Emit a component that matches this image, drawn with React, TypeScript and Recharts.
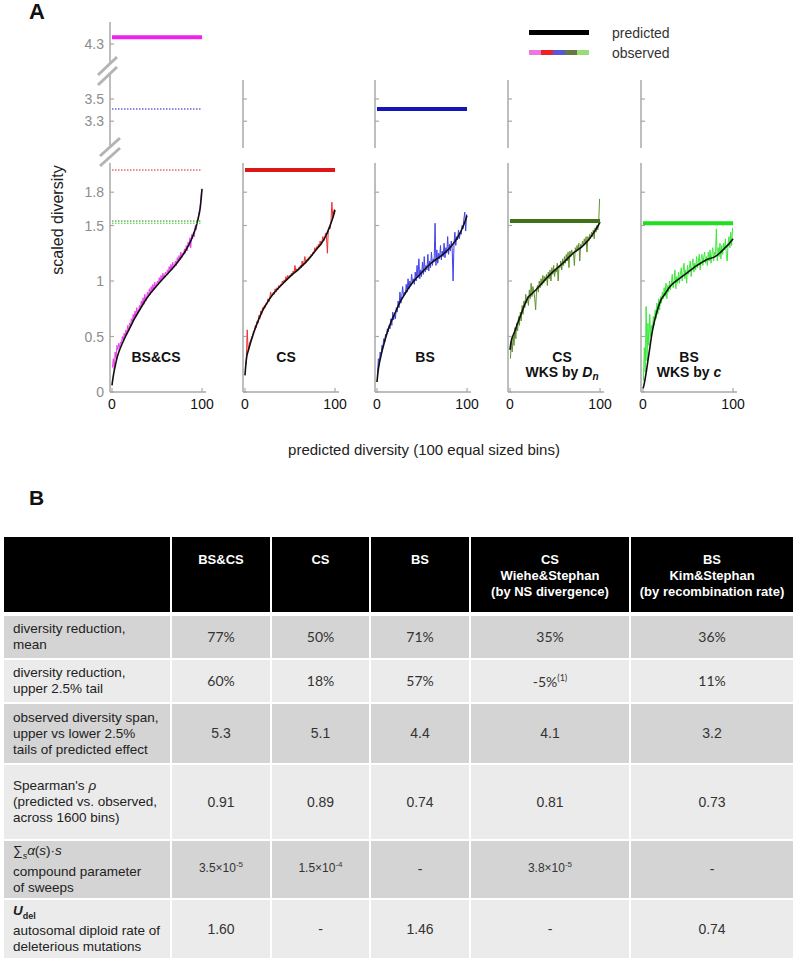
import React from "react";
import { LineChart, Line, XAxis, YAxis } from "recharts";

// ---------- panel A data ----------
const panelNames = ["BS&CS", "CS", "BS", "CS WKS by Dn", "BS WKS by c"];
const obsColors = ["#ee3cee", "#ee3030", "#4040e8", "#62922e", "#3ce83c"];
const meanColors = ["#ee22ee", "#dd1616", "#1616b8", "#3f7216", "#22dd22"];
const observedMean = [4.36, 2.0, 3.41, 1.54, 1.52];

const predX = [0, 1, 2, 4, 6, 8, 10, 15, 20, 25, 30, 40, 50, 60, 70, 80, 85, 90, 95, 98, 100];
const predBSCS = [0.06, 0.12, 0.17, 0.25, 0.32, 0.37, 0.41, 0.5, 0.58, 0.66, 0.73, 0.86, 0.96, 1.05, 1.14, 1.25, 1.32, 1.41, 1.54, 1.66, 1.83];
const predCS = [0.15, 0.25, 0.32, 0.38, 0.44, 0.49, 0.54, 0.65, 0.74, 0.81, 0.87, 0.96, 1.04, 1.11, 1.19, 1.29, 1.34, 1.41, 1.51, 1.58, 1.64];
const predBS = [0.09, 0.17, 0.23, 0.31, 0.38, 0.44, 0.5, 0.62, 0.71, 0.8, 0.87, 0.99, 1.08, 1.16, 1.22, 1.29, 1.34, 1.4, 1.48, 1.54, 1.59];
const predWS = [0.38, 0.44, 0.48, 0.52, 0.56, 0.61, 0.65, 0.76, 0.85, 0.89, 0.93, 1.02, 1.1, 1.17, 1.25, 1.31, 1.35, 1.4, 1.46, 1.5, 1.53];
const predKS = [0.03, 0.06, 0.1, 0.2, 0.31, 0.42, 0.53, 0.71, 0.83, 0.89, 0.95, 1.02, 1.08, 1.14, 1.19, 1.22, 1.25, 1.29, 1.33, 1.36, 1.38];

const obsBSCS = [
  0.22, 0.3, 0.2, 0.36, 0.3, 0.42, 0.38, 0.44, 0.4, 0.45,
  0.44, 0.5, 0.46, 0.53, 0.49, 0.56, 0.52, 0.6, 0.55, 0.62,
  0.59, 0.66, 0.62, 0.7, 0.65, 0.73, 0.68, 0.76, 0.71, 0.72,
  0.78, 0.74, 0.82, 0.77, 0.85, 0.79, 0.88, 0.82, 0.86, 0.9,
  0.86, 0.93, 0.88, 0.95, 0.9, 0.97, 0.92, 0.99, 0.94, 0.97,
  1.0, 0.97, 1.03, 0.99, 1.05, 1.01, 1.07, 1.03, 1.06, 1.08,
  1.05, 1.1, 1.07, 1.13, 1.09, 1.15, 1.1, 1.17, 1.12, 1.14,
  1.18, 1.14, 1.21, 1.17, 1.23, 1.19, 1.26, 1.21, 1.25, 1.24,
  1.29, 1.25, 1.32, 1.27, 1.35, 1.31, 1.39, 1.3, 1.42, 1.38,
  1.44, 1.4, 1.5, 1.46, 1.52, 1.56, 1.62, 1.64, 1.72, 1.82,
];
const obsCS = [
  0.22, 0.3, 0.56, 0.37, 0.42, 0.45, 0.47, 0.5, 0.51, 0.55,
  0.55, 0.6, 0.58, 0.64, 0.62, 0.69, 0.66, 0.73, 0.7, 0.76,
  0.74, 0.78, 0.76, 0.8, 0.79, 0.84, 0.81, 0.85, 0.9, 0.86,
  0.87, 0.9, 0.88, 0.93, 0.9, 0.94, 0.92, 0.96, 0.94, 0.97,
  0.96, 1.0, 0.98, 1.01, 0.99, 1.04, 1.01, 1.05, 1.03, 1.05,
  1.04, 1.07, 1.05, 1.09, 1.07, 1.14, 1.08, 1.11, 1.09, 1.12,
  1.11, 1.14, 1.12, 1.18, 1.14, 1.17, 1.22, 1.16, 1.19, 1.2,
  1.2, 1.22, 1.21, 1.24, 1.23, 1.26, 1.25, 1.3, 1.27, 1.31,
  1.3, 1.33, 1.31, 1.36, 1.33, 1.36, 1.4, 1.36, 1.39, 1.43,
  1.4, 1.25, 1.46, 1.48, 1.47, 1.54, 1.71, 1.57, 1.63, 1.65,
];
const obsBS = [
  0.15, 0.3, 0.24, 0.36, 0.33, 0.42, 0.4, 0.48, 0.45, 0.52,
  0.5, 0.57, 0.54, 0.6, 0.57, 0.66, 0.6, 0.72, 0.65, 0.7,
  0.66, 0.76, 0.72, 0.82, 0.76, 0.9, 0.8, 0.86, 0.95, 0.86,
  0.9, 0.88, 0.97, 0.9, 1.02, 0.93, 1.0, 0.96, 1.06, 0.98,
  1.02, 0.97, 1.08, 1.0, 1.14, 1.03, 1.2, 1.02, 1.1, 1.04,
  1.17, 1.06, 1.22, 1.08, 1.14, 1.1, 1.24, 1.09, 1.18, 1.12,
  1.26, 1.14, 1.2, 1.18, 1.52, 1.14, 1.28, 1.16, 1.25, 1.2,
  1.32, 1.19, 1.27, 1.22, 1.34, 1.21, 1.3, 1.25, 1.4, 1.24,
  1.33, 1.27, 1.36, 1.29, 1.0, 1.33, 1.44, 1.32, 1.4, 1.37,
  1.46, 1.38, 1.44, 1.42, 1.5, 1.47, 1.56, 1.62, 1.45, 1.6,
];
const obsWS = [
  0.3, 0.45, 0.36, 0.5, 0.42, 0.58, 0.48, 0.62, 0.55, 0.68,
  0.6, 0.72, 0.64, 0.78, 0.7, 0.82, 0.76, 0.88, 0.8, 0.86,
  0.78, 0.92, 0.84, 0.98, 0.86, 0.95, 0.9, 0.84, 0.74, 0.92,
  0.96, 0.9, 1.0, 0.94, 1.02, 0.96, 1.05, 0.98, 1.04, 1.0,
  1.06, 0.96, 1.08, 1.02, 1.1, 1.0, 1.12, 1.06, 1.14, 1.04,
  1.1, 1.08, 1.16, 1.0, 1.14, 1.12, 1.18, 1.1, 1.2, 1.14,
  1.22, 1.16, 1.24, 1.18, 1.26, 1.12, 1.27, 1.22, 1.28, 1.24,
  1.26, 1.14, 1.3, 1.26, 1.32, 1.28, 1.34, 1.18, 1.33, 1.3,
  1.36, 1.32, 1.38, 1.34, 1.4, 1.26, 1.4, 1.36, 1.42, 1.38,
  1.44, 1.4, 1.46, 1.38, 1.48, 1.44, 1.5, 1.46, 1.52, 1.74,
];
const obsKS = [
  0.1, 0.4, 0.18, 0.77, 0.28, 0.62, 0.42, 0.7, 0.5, 0.6,
  0.56, 0.68, 0.6, 0.74, 0.66, 0.8, 0.7, 0.84, 0.74, 0.86,
  0.8, 0.9, 0.84, 0.94, 0.86, 0.98, 0.84, 0.96, 0.9, 1.0,
  0.92, 0.98, 1.06, 0.94, 1.0, 1.1, 0.93, 1.04, 0.98, 1.08,
  0.98, 1.06, 1.12, 1.0, 1.08, 1.16, 1.02, 1.1, 0.98, 1.14,
  1.06, 1.12, 1.18, 1.04, 1.14, 1.2, 1.08, 1.16, 1.1, 1.22,
  1.12, 1.18, 1.24, 1.1, 1.2, 1.24, 1.14, 1.22, 1.26, 1.16,
  1.22, 1.14, 1.26, 1.18, 1.28, 1.16, 1.24, 1.3, 1.18, 1.26,
  1.24, 1.47, 1.18, 1.3, 1.22, 1.34, 1.2, 1.32, 1.24, 1.34,
  1.28, 1.38, 1.24, 1.18, 1.34, 1.4, 1.3, 1.44, 1.32, 1.48,
];

const predicted = [predBSCS, predCS, predBS, predWS, predKS];
const observed = [obsBSCS, obsCS, obsBS, obsWS, obsKS];

// ---------- panel B data ----------
const tableHeads = [[""], ["BS&CS"], ["CS"], ["BS"], ["CS", "Wiehe&Stephan", "(by NS divergence)"], ["BS", "Kim&Stephan", "(by recombination rate)"]];
const reductionMean = ["77%", "50%", "71%", "35%", "36%"];
const reductionTail = ["60%", "18%", "57%", "-5%", "11%"];
const diversitySpan = ["5.3", "5.1", "4.4", "4.1", "3.2"];
const spearmanRho = ["0.91", "0.89", "0.74", "0.81", "0.73"];
const sweepParam = [["3.5", "-5"], ["1.5", "-4"], null, ["3.8", "-5"], null];
const uDel = ["1.60", "-", "1.46", "-", "0.74"];

// ---------- layout ----------
const PPU = 111;
const AXES_X = [110, 243, 375, 508, 641];
const Y_W = 40;
const PLOT_W = 96;
const RIGHT_PAD = 16;
const X_H = 30;
const X_DOMAIN = [-2.2, 104.4];
const AXIS = "#a8a8a8";
const TICK_GRAY = "#8c8c8c";
const FONT = "'Liberation Sans', Arial, sans-serif";

type Seg = { top: number; bottom: number; anchorVal: number; anchorPx: number; ticks: number[]; xAxis?: boolean };
const SEG_TOP: Seg = { top: 22, bottom: 64, anchorVal: 4.3, anchorPx: 44, ticks: [4.3] };
const SEG_MID_FIRST: Seg = { top: 74, bottom: 148, anchorVal: 3.5, anchorPx: 99, ticks: [3.3, 3.5] };
const SEG_MID: Seg = { top: 80, bottom: 148, anchorVal: 3.5, anchorPx: 99, ticks: [3.3, 3.5] };
const SEG_LOW: Seg = { top: 163, bottom: 392, anchorVal: 0, anchorPx: 392, ticks: [0, 0.5, 1, 1.5, 1.8], xAxis: true };

const segDomain = (s: Seg) => [
  s.anchorVal - (s.bottom - s.anchorPx) / PPU,
  s.anchorVal + (s.anchorPx - s.top) / PPU,
];

const level = (v: number) => [{ x: 0, y: v }, { x: 100, y: v }];

function YTick(props: any) {
  const { y, payload, showLabel } = props;
  return (
    <g>
      <line x1={Y_W} x2={Y_W + 4} y1={y} y2={y} stroke={AXIS} strokeWidth={1.2} />
      {showLabel && (
        <text x={Y_W - 6} y={y} dy={5} textAnchor="end" fill={TICK_GRAY} fontSize={14} fontFamily={FONT}>
          {String(payload.value)}
        </text>
      )}
    </g>
  );
}

function XTick(props: any) {
  const { x, payload, axisY } = props;
  return (
    <g>
      <line x1={x} x2={x} y1={axisY} y2={axisY - 4} stroke={AXIS} strokeWidth={1.2} />
      <text x={x} y={axisY + 17} textAnchor="middle" fill="#111" fontSize={14} fontFamily={FONT}>
        {payload.value}
      </text>
    </g>
  );
}

type LineSpec = { key: string; data: { x: number; y: number }[]; color: string; width: number; dash?: string; type?: string };

function Segment({ axisX, seg, lines, labels }: { axisX: number; seg: Seg; lines: LineSpec[]; labels: boolean }) {
  const h = seg.bottom - seg.top;
  const domain = segDomain(seg);
  return (
    <div style={{ position: "absolute", left: axisX - Y_W, top: seg.top }}>
      <LineChart
        width={Y_W + PLOT_W + RIGHT_PAD}
        height={h + (seg.xAxis ? X_H : 0)}
        margin={{ top: 0, right: RIGHT_PAD, bottom: 0, left: 0 }}
      >
        <XAxis
          type="number"
          dataKey="x"
          domain={X_DOMAIN}
          allowDataOverflow
          hide={!seg.xAxis}
          ticks={[0, 100]}
          interval={0}
          height={X_H}
          tickLine={false}
          axisLine={{ stroke: AXIS, strokeWidth: 1.5 }}
          tick={(p: any) => <XTick {...p} axisY={h} />}
        />
        <YAxis
          type="number"
          domain={domain}
          allowDataOverflow
          ticks={seg.ticks}
          interval={0}
          width={Y_W}
          tickLine={false}
          axisLine={{ stroke: AXIS, strokeWidth: 1.5 }}
          tick={(p: any) => <YTick {...p} showLabel={labels} />}
        />
        {lines.map((l) => (
          <Line
            key={l.key}
            data={l.data}
            dataKey="y"
            type={(l.type as any) || "linear"}
            stroke={l.color}
            strokeWidth={l.width}
            strokeDasharray={l.dash}
            dot={false}
            activeDot={false}
            isAnimationActive={false}
          />
        ))}
      </LineChart>
    </div>
  );
}

function Panel({ index }: { index: number }) {
  const segs = index === 0 ? [SEG_TOP, SEG_MID_FIRST, SEG_LOW] : [SEG_MID, SEG_LOW];
  return (
    <>
      {segs.map((seg, si) => {
        const [lo, hi] = segDomain(seg);
        const lines: LineSpec[] = [];
        if (seg.xAxis) {
          lines.push({
            key: "obs",
            data: observed[index].map((v, i) => ({ x: i + 0.5, y: v })),
            color: obsColors[index],
            width: 1,
          });
          lines.push({
            key: "pred",
            data: predicted[index].map((v, i) => ({ x: predX[i], y: v })),
            color: "#111",
            width: 1.6,
            type: "monotone",
          });
        }
        if (index === 0) {
          observedMean.forEach((m, j) => {
            if (j > 0 && m > lo && m < hi) {
              lines.push({ key: "dot" + j, data: level(m), color: meanColors[j], width: 1, dash: "1.5 1.5" });
            }
          });
        }
        const m = observedMean[index];
        if (m > lo && m < hi) {
          lines.push({ key: "mean", data: level(m), color: meanColors[index], width: 4 });
        }
        return <Segment key={si} axisX={AXES_X[index]} seg={seg} lines={lines} labels={index === 0} />;
      })}
    </>
  );
}

const panelLabelX = [156, 286, 425, 562, 689];

function PanelLabel({ index }: { index: number }) {
  const style: React.CSSProperties = {
    position: "absolute",
    left: panelLabelX[index] - 60,
    width: 120,
    textAlign: "center",
    fontFamily: FONT,
    fontWeight: "bold",
    fontSize: 14,
    lineHeight: "15px",
    color: "#111",
    top: 350,
  };
  if (index === 3) {
    return (
      <div style={style}>
        CS
        <br />
        WKS by <i>D</i>
        <sub style={{ fontSize: 10, fontStyle: "italic", verticalAlign: "-3px" }}>n</sub>
      </div>
    );
  }
  if (index === 4) {
    return (
      <div style={style}>
        BS
        <br />
        WKS by <i>c</i>
      </div>
    );
  }
  return <div style={style}>{panelNames[index]}</div>;
}

const COLS = [166, 98, 97, 98, 158, 162];
const ROWS = [75, 42, 42, 59, 74, 57, 58];
const DARK = "#d4d4d4";
const LIGHT = "#ebebeb";

function cellValue(row: number, col: number) {
  const calibri: React.CSSProperties = { fontFamily: "Lato, 'Open Sans', sans-serif", fontSize: 14, color: "#333" };
  const arial: React.CSSProperties = { fontFamily: FONT, fontSize: 14, color: "#333" };
  if (row === 1) return <span style={calibri}>{reductionMean[col]}</span>;
  if (row === 2)
    return (
      <span style={calibri}>
        {reductionTail[col]}
        {col === 3 && <sup style={{ fontSize: 9 }}>(1)</sup>}
      </span>
    );
  if (row === 3) return <span style={arial}>{diversitySpan[col]}</span>;
  if (row === 4) return <span style={arial}>{spearmanRho[col]}</span>;
  if (row === 5) {
    const v = sweepParam[col];
    if (!v) return <span style={arial}>-</span>;
    return (
      <span style={{ ...arial, fontSize: 12, position: "relative", top: -3 }}>
        {v[0]}×10<sup style={{ fontSize: 8 }}>{v[1]}</sup>
      </span>
    );
  }
  return <span style={arial}>{uDel[col]}</span>;
}

function rowLabel(row: number) {
  switch (row) {
    case 1:
      return <>diversity reduction,<br />mean</>;
    case 2:
      return <>diversity reduction,<br />upper 2.5% tail</>;
    case 3:
      return <>observed diversity span,<br />upper vs lower 2.5%<br />tails of predicted effect</>;
    case 4:
      return <>Spearman's <i>ρ</i><br />(predicted vs. observed,<br />across 1600 bins)</>;
    case 5:
      return (
        <>
          ∑<sub style={{ fontSize: 9, fontStyle: "italic" }}>s</sub>
          <i>α</i>(<i>s</i>)·<i>s</i>
          <br />compound parameter<br />of sweeps
        </>
      );
    default:
      return (
        <>
          <b><i>U</i></b>
          <sub style={{ fontSize: 9, fontWeight: "bold" }}>del</sub>
          <br />autosomal diploid rate of<br />deleterious mutations
        </>
      );
  }
}

function Table() {
  const cells: React.ReactNode[] = [];
  let top = 537;
  ROWS.forEach((rh, r) => {
    let left = 4;
    COLS.forEach((cw, c) => {
      const header = r === 0;
      const bg = header ? "#000" : r % 2 === 1 ? DARK : LIGHT;
      let content: React.ReactNode = null;
      if (header) {
        content = tableHeads[c].map((t, k) => <div key={k}>{t}</div>);
      } else if (c === 0) {
        content = <div>{rowLabel(r)}</div>;
      } else {
        content = <div>{cellValue(r, c - 1)}</div>;
      }
      cells.push(
        <div
          key={r + "-" + c}
          style={{
            position: "absolute",
            left,
            top,
            width: cw,
            height: rh,
            background: bg,
            boxSizing: "border-box",
            display: "flex",
            flexDirection: "column",
            justifyContent: header ? "flex-start" : "center",
            alignItems: c === 0 ? "flex-start" : "center",
            textAlign: c === 0 ? "left" : "center",
            paddingTop: header ? 15 : 0,
            paddingLeft: c === 0 ? 9 : 0,
            fontFamily: FONT,
            fontSize: header ? 13 : 13.5,
            fontWeight: header ? "bold" : "normal",
            lineHeight: "16px",
            color: header ? "#fff" : "#222",
          }}
        >
          {content}
        </div>
      );
      left += cw + 2;
    });
    top += rh + (r === 0 ? 4 : 2);
  });
  return <>{cells}</>;
}

const legendSwatches = ["#ee77dd", "#ee2222", "#5555dd", "#667744", "#99dd77"];

export default function App() {
  return (
    <div style={{ position: "absolute", left: 0, top: 0, width: 796, height: 960, background: "#fff", fontFamily: FONT }}>
      <div style={{ position: "absolute", left: 29, top: -1, fontSize: 22, fontWeight: "bold", color: "#111" }}>A</div>
      <div style={{ position: "absolute", left: 29, top: 486, fontSize: 21, fontWeight: "bold", color: "#111" }}>B</div>

      {panelNames.map((_, i) => (
        <Panel key={i} index={i} />
      ))}
      {panelNames.map((_, i) => (
        <PanelLabel key={"l" + i} index={i} />
      ))}

      {/* axis break marks */}
      <svg width={796} height={200} style={{ position: "absolute", left: 0, top: 0, pointerEvents: "none" }}>
        <line x1={98} y1={75} x2={117} y2={57} stroke="#b4b4b4" strokeWidth={3} />
        <line x1={98} y1={85} x2={117} y2={67} stroke="#b4b4b4" strokeWidth={3} />
        <line x1={100} y1={156} x2={120} y2={138} stroke="#b4b4b4" strokeWidth={3} />
        <line x1={100} y1={166} x2={120} y2={148} stroke="#b4b4b4" strokeWidth={3} />
      </svg>

      {/* legend */}
      <svg width={80} height={40} style={{ position: "absolute", left: 525, top: 25 }}>
        <rect x={4} y={5} width={60} height={5} fill="#000" />
        {legendSwatches.map((c, i) => (
          <rect key={c} x={4 + i * 12} y={25} width={12} height={5} fill={c} />
        ))}
      </svg>
      <div style={{ position: "absolute", left: 612, top: 24, fontSize: 14, color: "#333", lineHeight: "18px" }}>predicted</div>
      <div style={{ position: "absolute", left: 612, top: 44, fontSize: 14, color: "#333", lineHeight: "18px" }}>observed</div>

      {/* axis titles */}
      <div
        style={{
          position: "absolute",
          left: 58 - 80,
          top: 220 - 10,
          width: 160,
          height: 20,
          lineHeight: "20px",
          textAlign: "center",
          fontSize: 16,
          color: "#222",
          transform: "rotate(-90deg)",
        }}
      >
        scaled diversity
      </div>
      <div style={{ position: "absolute", left: 224, top: 440, width: 400, textAlign: "center", fontSize: 15, color: "#222", lineHeight: "20px" }}>
        predicted diversity (100 equal sized bins)
      </div>

      <Table />
    </div>
  );
}
